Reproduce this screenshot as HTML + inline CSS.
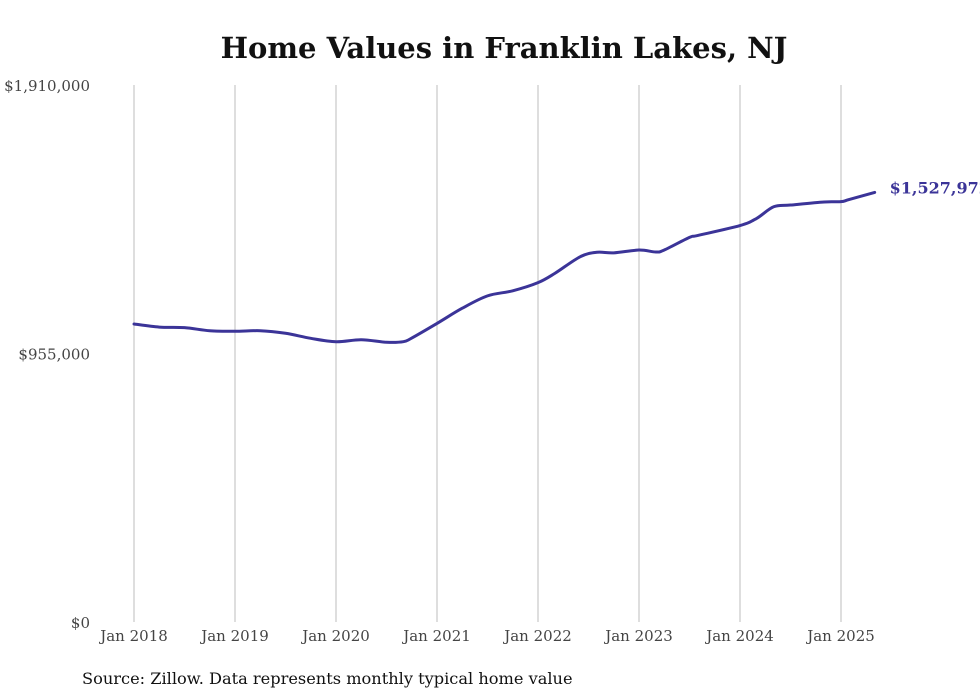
<!DOCTYPE html>
<html><head><meta charset="utf-8"><style>
body{margin:0;background:#fff;}
svg{display:block;font-family:"DejaVu Serif","Liberation Serif",serif;}
</style></head><body>
<svg id="chart" width="980" height="699">
<text x="504" y="58" text-anchor="middle" font-size="29" font-weight="bold" fill="#111">Home Values in Franklin Lakes, NJ</text>
<g id="grid"></g><g id="yaxis"></g><g id="xaxis"></g><g id="series"></g>
<text x="82" y="684" font-size="16.2" fill="#111">Source: Zillow. Data represents monthly typical home value</text>
</svg>
<script>
const months=[0,3,6,9,12,15,18,21,24,27,30,32,33,36,39,42,45,48,50,53,55,57,60,62,63,66,67,72,74,76,78,82,84,85,88];
const values=[1060000,1049000,1047000,1036000,1034000,1036000,1027000,1009000,997000,1004000,995000,997000,1010000,1062000,1116000,1160000,1178000,1207000,1240000,1299000,1315000,1313000,1323000,1316000,1323000,1368000,1375000,1410000,1436000,1477000,1483000,1494000,1495000,1503000,1527972];
const xTickLabels=["Jan 2018","Jan 2019","Jan 2020","Jan 2021","Jan 2022","Jan 2023","Jan 2024","Jan 2025"];
const yTickValues=[0,955000,1910000];
const yTickLabels=["$0","$955,000","$1,910,000"];
const lastLabel="$1,527,972";
const NS="http://www.w3.org/2000/svg";
const x=m=>134+m*101/12;
const y=v=>622-v/1910000*537;
function mk(t,a,p){const e=document.createElementNS(NS,t);for(const k in a)e.setAttribute(k,a[k]);p.appendChild(e);return e;}
const grid=document.getElementById('grid'),ya=document.getElementById('yaxis'),xa=document.getElementById('xaxis'),se=document.getElementById('series');
xTickLabels.forEach((l,i)=>{
 const gl=mk('line',{x1:x(i*12),x2:x(i*12),y1:85,y2:622,stroke:'#bdbdbd','stroke-width':1},grid);
 
 
 const t=mk('text',{x:x(i*12),y:641,'text-anchor':'middle','font-size':15,fill:'#444'},xa);t.textContent=l;
 
 
});
yTickValues.forEach((v,i)=>{
 const t=mk('text',{x:90,y:y(v)+6,'text-anchor':'end','font-size':15,fill:'#444'},ya);t.textContent=yTickLabels[i];
 
 
});
const P=months.map((m,i)=>[x(m),y(values[i])]);
let d='M'+P[0][0]+','+P[0][1];
for(let i=0;i<P.length-1;i++){const p0=P[i-1]||P[i],p1=P[i],p2=P[i+1],p3=P[i+2]||p2;
 d+=` C${p1[0]+(p2[0]-p0[0])/6},${p1[1]+(p2[1]-p0[1])/6} ${p2[0]-(p3[0]-p1[0])/6},${p2[1]-(p3[1]-p1[1])/6} ${p2[0]},${p2[1]}`;}
const path=mk('path',{d:d,fill:'none',stroke:'#3b3498','stroke-width':3,'stroke-linecap':'round'},se);


const last=P[P.length-1];
const lt=mk('text',{x:last[0]+15,y:last[1]+1,'font-size':16,'font-weight':'bold',fill:'#3b3498'},se);lt.textContent=lastLabel;


</script>
</body></html>
